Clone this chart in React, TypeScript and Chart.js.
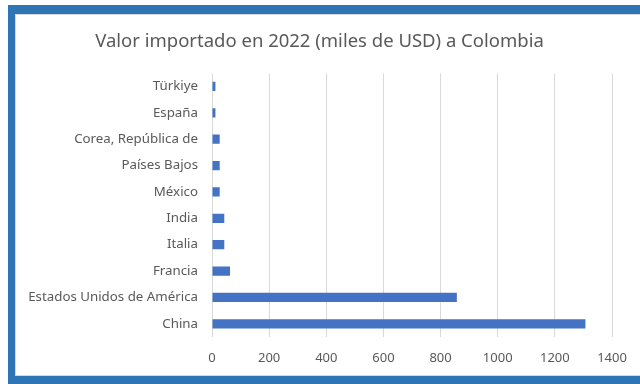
import React, { useEffect, useRef } from "react";
import { Chart, registerables } from "chart.js";

Chart.register(...registerables);

const title = "Valor importado en 2022 (miles de USD) a Colombia";
const countries = [
  "Türkiye",
  "España",
  "Corea, República de",
  "Países Bajos",
  "México",
  "India",
  "Italia",
  "Francia",
  "Estados Unidos de América",
  "China",
];
const values = [12, 12, 27, 27, 27, 43, 43, 63, 857, 1307];
const xMin = 0;
const xMax = 1400;
const xStep = 200;

export default function App() {
  const ref = useRef<HTMLCanvasElement | null>(null);

  useEffect(() => {
    document.body.style.margin = "0";
    const canvas = ref.current;
    if (!canvas) return;
    const chart = new Chart(canvas, {
      type: "bar",
      data: {
        labels: countries,
        datasets: [
          {
            data: values,
            backgroundColor: "#4472C4",
            borderWidth: 0,
            categoryPercentage: 1,
            barPercentage: 0.35,
          },
        ],
      },
      options: {
        indexAxis: "y",
        animation: false,
        responsive: false,
        maintainAspectRatio: false,
        layout: { padding: { left: 27, right: 28, top: 23, bottom: 0 } },
        plugins: {
          legend: { display: false },
          tooltip: { enabled: false },
          title: {
            display: true,
            text: title,
            color: "#595959",
            font: { family: "'Noto Sans', sans-serif", size: 18.5, weight: "normal", lineHeight: 1.2 },
            padding: { top: 8, bottom: 20 },
          },
        },
        scales: {
          x: {
            min: xMin,
            max: xMax,
            ticks: {
              stepSize: xStep,
              color: "#595959",
              font: { family: "'Noto Sans', sans-serif", size: 13 },
              padding: 13,
              callback: (v: any) => String(v),
            },
            grid: { color: "#D9D9D9", lineWidth: 1, drawTicks: false },
            border: { display: false },
            afterFit: (s: any) => {
              s.height = 47;
            },
          },
          y: {
            ticks: {
              color: "#595959",
              font: { family: "'Noto Sans', sans-serif", size: 13.3 },
              padding: 14,
            },
            grid: { display: false, drawTicks: false },
            border: { display: false },
            afterFit: (s: any) => {
              s.width = 185;
            },
          },
        },
      },
    });
    return () => chart.destroy();
  }, []);

  return (
    <div style={{ position: "relative", width: 640, height: 384, overflow: "hidden", background: "#fff" }}>
      <div
        style={{
          position: "absolute",
          left: 8,
          top: 5,
          width: 700,
          height: 379,
          boxSizing: "border-box",
          borderTop: "9px solid #2E75B6",
          borderLeft: "7px solid #2E75B6",
          borderBottom: "8px solid #2E75B6",
        }}
      >
        <div
          style={{
            position: "absolute",
            left: 0,
            top: 0,
            right: 0,
            bottom: 0,
            borderTop: "1px solid #D9D9D9",
            borderLeft: "1px solid #D9D9D9",
            borderBottom: "1px solid #D9D9D9",
          }}
        />
      </div>
      <canvas ref={ref} width={640} height={384} style={{ position: "absolute", left: 0, top: 0 }} />
    </div>
  );
}
